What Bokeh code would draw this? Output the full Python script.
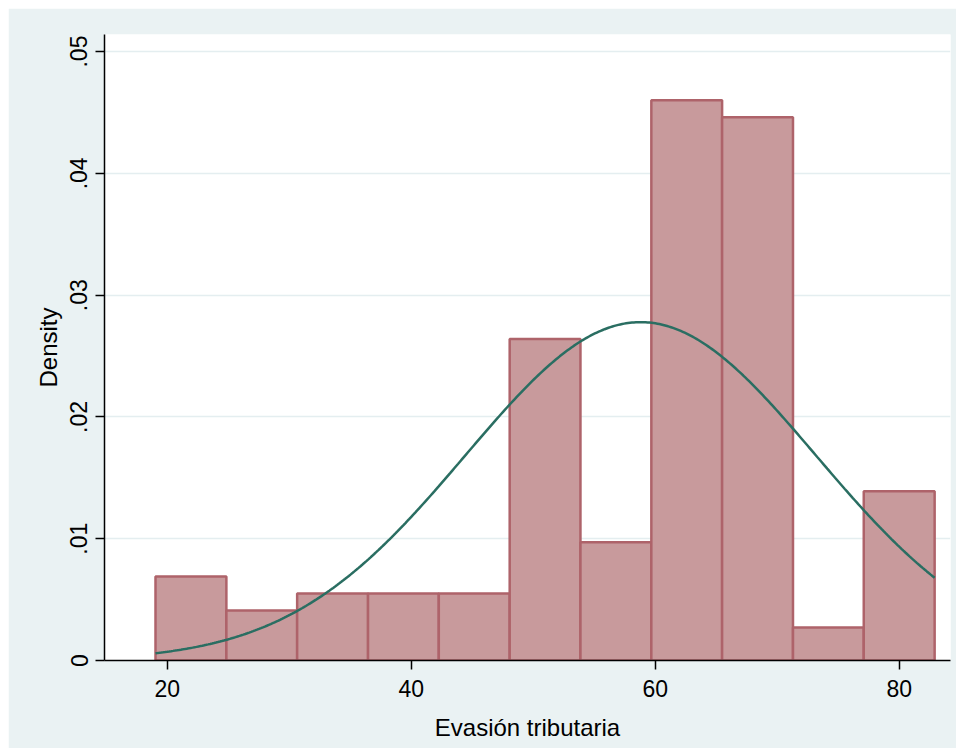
import numpy as np
from bokeh.plotting import figure
from bokeh.models import Range1d, FixedTicker, ColumnDataSource
from bokeh.embed import file_html
from bokeh.resources import INLINE

# Histogram data
bin_edges = [19.04, 24.85, 30.65, 36.46, 42.26, 48.07, 53.87, 59.68, 65.48, 71.29, 77.09, 82.90]
densities = [0.0069, 0.0041, 0.0055, 0.0055, 0.0055, 0.0264, 0.0097, 0.0460, 0.0446, 0.0027, 0.0139]

# Normal density overlay parameters
norm_mean = 58.8
norm_sd = 14.36

x_ticks = [20, 40, 60, 80]
y_ticks = [0, 0.01, 0.02, 0.03, 0.04, 0.05]
y_tick_labels = ["0", ".01", ".02", ".03", ".04", ".05"]

FONT = "Liberation Sans"
BG = "#eaf2f3"

p = figure(width=948, height=740, output_backend="svg", toolbar_location=None,
           x_range=Range1d(14.86, 84.2), y_range=Range1d(0, 0.0514),
           min_border_left=96, min_border_right=6, min_border_top=26, min_border_bottom=88)
p.margin = (8, 0, 0, 8)
p.background_fill_color = "white"
p.border_fill_color = BG
p.outline_line_color = None

src = ColumnDataSource(dict(left=bin_edges[:-1], right=bin_edges[1:], top=densities,
                            bottom=[0] * len(densities)))
p.quad(left="left", right="right", top="top", bottom="bottom", source=src,
       fill_color="#c89a9c", line_color="#ae636a", line_width=2.5)

xs = np.linspace(bin_edges[0], bin_edges[-1], 400)
ys = np.exp(-0.5 * ((xs - norm_mean) / norm_sd) ** 2) / (norm_sd * np.sqrt(2 * np.pi))
p.line(xs, ys, line_color="#2a6e62", line_width=2.5)

# axes
p.xaxis.ticker = FixedTicker(ticks=x_ticks)
p.yaxis.ticker = FixedTicker(ticks=y_ticks)
p.yaxis.major_label_overrides = {t: l for t, l in zip(y_ticks, y_tick_labels)}
p.yaxis.major_label_orientation = "vertical"
for ax in (p.xaxis[0], p.yaxis[0]):
    ax.axis_line_color = "black"
    ax.axis_line_width = 1.5
    ax.major_tick_line_color = "black"
    ax.major_tick_line_width = 1.5
    ax.major_tick_out = 9
    ax.major_tick_in = 0
    ax.minor_tick_line_color = None
    ax.major_label_text_font = FONT
    ax.major_label_text_font_size = "23px"
    ax.major_label_text_color = "black"
    ax.axis_label_text_font = FONT
    ax.axis_label_text_font_size = "24px"
    ax.axis_label_text_font_style = "normal"
    ax.axis_label_text_color = "black"

p.xaxis.axis_label = "Evasión tributaria"
p.yaxis.axis_label = "Density"
p.xaxis.major_label_standoff = 10
p.yaxis.major_label_standoff = 8
p.xaxis.axis_label_standoff = 14
p.yaxis.axis_label_standoff = 6

p.xgrid.grid_line_color = None
p.ygrid.ticker = FixedTicker(ticks=y_ticks)
p.ygrid.grid_line_color = "#e4eef0"
p.ygrid.grid_line_width = 1.5

open("out.html", "w").write(file_html(p, INLINE))
